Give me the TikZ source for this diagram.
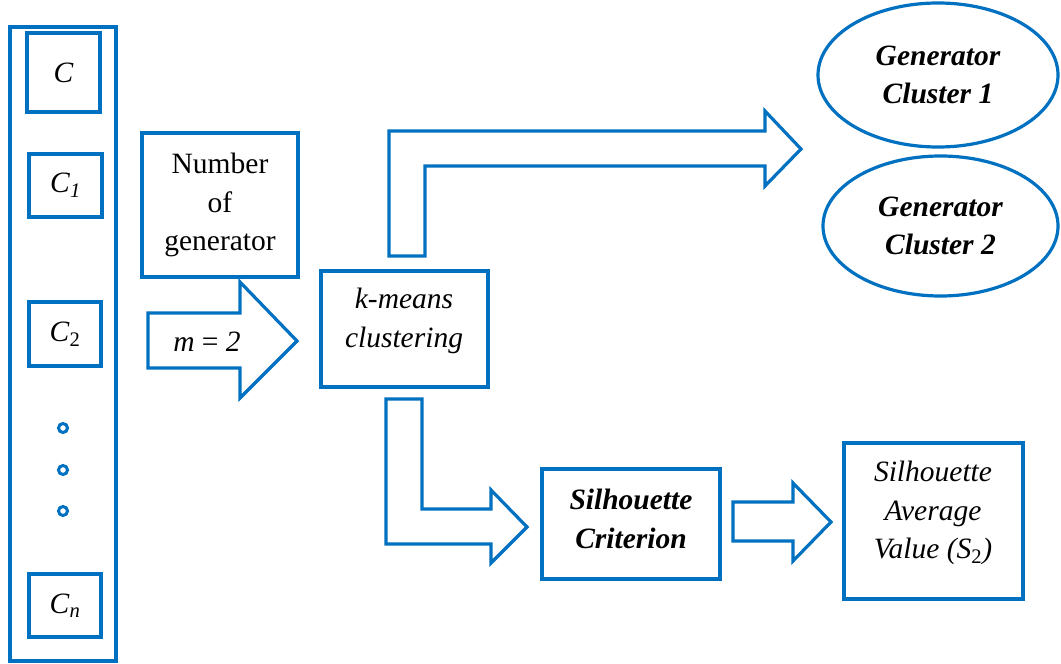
\documentclass[tikz,border=0pt]{standalone}
\usepackage{fontspec}
\setmainfont{Liberation Serif}
\usetikzlibrary{shapes.geometric}
\definecolor{flowblue}{HTML}{0070C0}
\tikzset{
  box/.style={draw=flowblue, line width=3.2pt, inner sep=0pt, align=center,
              font=\fontsize{29.5}{38.5}\selectfont},
  oval/.style={ellipse, draw=flowblue, line width=3.2pt, inner sep=0pt, align=center,
               font=\fontsize{29.5}{38.5}\selectfont\bfseries\itshape},
  blockarrow/.style={draw=flowblue, line width=3.2pt, line join=miter},
  lbl/.style={align=center, inner sep=0pt, font=\fontsize{29.5}{38.5}\selectfont},
  dot/.style={circle, draw=flowblue, line width=3pt, minimum size=9pt, inner sep=0pt},
}
\begin{document}
\begin{tikzpicture}[x=1pt, y=-1pt]
\useasboundingbox (0,0) rectangle (1061,664);

% left column of candidate generators
\node[box, minimum width=106pt, minimum height=634pt] (col) at (63,344) {};
\node[box, minimum width=73pt, minimum height=79pt] (c0) at (63.5,72.5) {\textit{C}};
\node[box, minimum width=73pt, minimum height=63pt] (c1) at (65.5,185.5) {\textit{C}\textsubscript{\textit{1}}};
\node[box, minimum width=72pt, minimum height=64pt] (c2) at (65,334) {\textit{C}\textsubscript{2}};
\node[box, minimum width=72pt, minimum height=63pt] (cn) at (65,605.5) {\textit{C}\textsubscript{\textit{n}}};
\node[dot] (d1) at (63,428) {};
\node[dot] (d2) at (63,470) {};
\node[dot] (d3) at (63,511) {};

% number of generators and its input arrow
\node[box, minimum width=156pt, minimum height=144pt] (num) at (220,205) {Number\\of\\generator};
\draw[blockarrow] (148,313) -- (240,313) -- (240,282) -- (297,341) -- (240,398)
  -- (240,368) -- (148,368) -- cycle;
\node[lbl] (m) at (207,342) {\textit{m} = \textit{2}};

% clustering step
\node[box, minimum width=167pt, minimum height=116pt] (kmeans) at (404.5,329) {};
\node[lbl] (kmeanstxt) at (404,321) {\textit{k-means}\\\textit{clustering}};

% bent arrow up to the clusters
\draw[blockarrow] (389,256) -- (389,131) -- (765,131) -- (765,111) -- (801,149)
  -- (765,186) -- (765,166) -- (425,166) -- (425,256) -- cycle;

% resulting clusters
\node[oval, minimum width=240pt, minimum height=144pt] (gc1) at (938,75) {Generator\\Cluster 1};
\node[oval, minimum width=235pt, minimum height=140pt] (gc2) at (940.5,226) {Generator\\Cluster 2};

% bent arrow down to the silhouette criterion
\draw[blockarrow] (386,399) -- (386,544) -- (491,544) -- (491,563) -- (527,527)
  -- (491,490) -- (491,509) -- (422,509) -- (422,399) -- cycle;

\node[box, minimum width=178pt, minimum height=110pt] (crit) at (631,524) {};
\node[lbl] (crittxt) at (631,519) {\textbf{\textit{Silhouette}}\\\textbf{\textit{Criterion}}};

\draw[blockarrow] (733,502) -- (793,502) -- (793,483) -- (831,522) -- (793,561)
  -- (793,541) -- (733,541) -- cycle;

\node[box, minimum width=179pt, minimum height=156pt] (avg) at (933.5,521) {};
\node[lbl] (avgtxt) at (933,513) {\textit{Silhouette}\\\textit{Average}\\\textit{Value (S}\textsubscript{2}\textit{)}};
\end{tikzpicture}
\end{document}
